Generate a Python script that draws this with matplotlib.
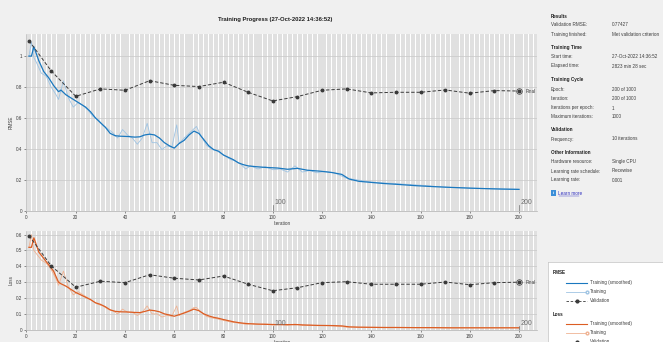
import matplotlib
matplotlib.use("Agg")
import matplotlib.pyplot as plt
from matplotlib.patches import Rectangle

W, H = 663, 342
plt.rcParams['font.family'] = ['Liberation Sans', 'DejaVu Sans']

# ---- data ----
val_iter = [1, 10, 20, 30, 40, 50, 60, 70, 80, 90, 100, 110, 120, 130, 140, 150, 160, 170, 180, 190, 200]
val_rmse = [1.10, 0.905, 0.740, 0.788, 0.779, 0.841, 0.811, 0.803, 0.831, 0.766, 0.710,
            0.738, 0.779, 0.788, 0.762, 0.766, 0.766, 0.781, 0.760, 0.777, 0.774]
val_loss = [0.594, 0.404, 0.268, 0.306, 0.297, 0.347, 0.325, 0.314, 0.339, 0.287, 0.246,
            0.265, 0.297, 0.303, 0.287, 0.287, 0.287, 0.301, 0.284, 0.297, 0.300]

sm_iter = [1, 2, 3, 5, 7, 9, 11, 13, 14, 16, 18, 20, 22, 24, 26, 28, 30, 32, 34, 36, 38, 41, 44,
           46, 48, 50, 52, 54, 56, 58, 60, 62, 64, 66, 68, 70, 72, 74, 76, 78, 80, 82, 84, 86, 88,
           90, 93, 97, 102, 106, 110, 114, 119, 124, 128, 131, 135, 140, 145, 150, 158, 165, 172,
           180, 186, 193, 200]
sm_rmse = [1.00, 1.00, 1.06, 0.97, 0.90, 0.86, 0.81, 0.77, 0.78, 0.75, 0.73, 0.71, 0.69, 0.67,
           0.64, 0.60, 0.57, 0.54, 0.50, 0.485, 0.482, 0.480, 0.476, 0.478, 0.49, 0.495, 0.49,
           0.47, 0.44, 0.42, 0.405, 0.435, 0.455, 0.49, 0.515, 0.50, 0.46, 0.42, 0.395, 0.385,
           0.36, 0.345, 0.33, 0.31, 0.298, 0.29, 0.285, 0.28, 0.276, 0.268, 0.274, 0.262, 0.256,
           0.247, 0.235, 0.205, 0.19, 0.183, 0.176, 0.171, 0.162, 0.156, 0.151, 0.146, 0.143,
           0.140, 0.138]
sm_loss = [0.52, 0.52, 0.58, 0.49, 0.45, 0.41, 0.37, 0.30, 0.29, 0.275, 0.255, 0.235, 0.22,
           0.205, 0.19, 0.17, 0.16, 0.145, 0.125, 0.116, 0.113, 0.112, 0.109, 0.108, 0.115,
           0.124, 0.12, 0.113, 0.10, 0.093, 0.085, 0.095, 0.105, 0.117, 0.13, 0.12, 0.10, 0.087,
           0.078, 0.072, 0.064, 0.057, 0.05, 0.045, 0.041, 0.038, 0.036, 0.034, 0.032, 0.032,
           0.032, 0.029, 0.027, 0.026, 0.024, 0.018, 0.016, 0.015, 0.014, 0.014, 0.013, 0.013,
           0.012, 0.012, 0.012, 0.012, 0.012]

raw_iter = [1, 2, 3, 4, 6, 8, 10, 12, 13, 15, 17, 19, 21, 23, 25, 27, 29, 31, 33, 35, 37, 39,
            41, 43, 45, 47, 49, 51, 53, 55, 57, 59, 61, 62, 64, 66, 68, 69, 71, 73, 75, 77, 79,
            81, 83, 85, 87, 89, 91, 94, 97, 100, 103, 106, 109, 112, 115, 118, 121, 125, 130,
            140, 150, 160, 170, 180, 190, 200]
raw_rmse = [1.00, 1.09, 0.99, 0.96, 0.89, 0.87, 0.80, 0.75, 0.72, 0.84, 0.73, 0.67, 0.70,
            0.68, 0.65, 0.61, 0.59, 0.55, 0.53, 0.505, 0.47, 0.525, 0.49, 0.47, 0.43, 0.47,
            0.565, 0.44, 0.44, 0.395, 0.42, 0.41, 0.555, 0.435, 0.47, 0.50, 0.53, 0.545, 0.48,
            0.425, 0.40, 0.39, 0.37, 0.35, 0.33, 0.32, 0.30, 0.27, 0.29, 0.27, 0.285, 0.265,
            0.27, 0.25, 0.29, 0.25, 0.26, 0.245, 0.255, 0.245, 0.21, 0.185, 0.175, 0.165, 0.152,
            0.146, 0.141, 0.138]
raw_loss = [0.52, 0.60, 0.50, 0.48, 0.44, 0.42, 0.38, 0.32, 0.28, 0.37, 0.27, 0.22, 0.24,
            0.22, 0.20, 0.18, 0.16, 0.15, 0.13, 0.12, 0.10, 0.13, 0.11, 0.11, 0.09, 0.11,
            0.15, 0.10, 0.10, 0.08, 0.09, 0.085, 0.15, 0.09, 0.11, 0.12, 0.14, 0.14, 0.11,
            0.085, 0.075, 0.07, 0.062, 0.055, 0.048, 0.044, 0.04, 0.034, 0.038, 0.033, 0.036,
            0.03, 0.033, 0.028, 0.036, 0.027, 0.03, 0.025, 0.027, 0.024, 0.016, 0.015, 0.014,
            0.013, 0.012, 0.012, 0.012, 0.012]

info_rows = [
    ("Results", None),
    ("Validation RMSE:", "0.77427"),
    ("Training finished:", "Met validation criterion"),
    ("Training Time", None),
    ("Start time:", "27-Oct-2022 14:36:52"),
    ("Elapsed time:", "2823 min 28 sec"),
    ("Training Cycle", None),
    ("Epoch:", "200 of 1000"),
    ("Iteration:", "200 of 1000"),
    ("Iterations per epoch:", "1"),
    ("Maximum iterations:", "1000"),
    ("Validation", None),
    ("Frequency:", "10 iterations"),
    ("Other Information", None),
    ("Hardware resource:", "Single CPU"),
    ("Learning rate schedule:", "Piecewise"),
    ("Learning rate:", "0.001"),
]
info_y = [16, 25, 34.5, 48, 57, 66, 80, 89.5, 99, 108, 117, 130, 139, 152, 161.5, 171, 180]

C_BLUE = '#1a78bf'
C_BLUE_L = '#9fc4e3'
C_ORNG = '#dc5d23'
C_ORNG_L = '#efb393'
C_VAL = '#3a3a3a'
TXT = '#3c3c3c'
FS = 3.3


def fx(x):
    return x / W


def fy(y):
    return 1 - y / H


fig = plt.figure(figsize=(W / 100, H / 100), dpi=100, facecolor='#f0f0f0')

ax1 = fig.add_axes([fx(26.5), fy(210.7), (537 - 26.5) / W, (210.7 - 34) / H])
ax2 = fig.add_axes([fx(26.5), fy(329.7), (537 - 26.5) / W, (329.7 - 230.7) / H])


def style_axis(ax, ymax, yticks, ylabel):
    ax.set_facecolor('white')
    ax.set_xlim(0, 207.3)
    ax.set_ylim(0, ymax)
    # epoch shading: one grey band every other epoch
    ax.vlines(list(range(1, 208, 2)), 0, ymax, color='#e0e0e0', lw=1.5,
              antialiased=False, zorder=0)
    ax.set_xticks(range(0, 201, 20))
    ax.set_yticks(yticks)
    ax.set_yticklabels([('%g' % t) for t in yticks])
    ax.grid(axis='y', color='#c8c8c8', lw=0.5, zorder=1)
    ax.tick_params(labelsize=FS, colors=TXT, length=1.5, width=0.4, pad=1.5)
    for s in ax.spines.values():
        s.set_color('#b0b0b0')
        s.set_linewidth(0.5)
    ax.spines['top'].set_visible(False)
    ax.spines['right'].set_visible(False)
    ax.set_xlabel('Iteration', fontsize=FS, color=TXT, labelpad=0.5)
    ax.set_ylabel(ylabel, fontsize=FS, color=TXT, labelpad=2)


def draw(ax, raw, sm, val, c, cl, ymax):
    ax.plot(raw_iter, raw, color=cl, lw=0.6, zorder=2)
    ax.plot(sm_iter, sm, color=c, lw=0.9, zorder=3)
    ax.plot(val_iter, val, color=C_VAL, ls=(0, (3.5, 2)), lw=0.7, marker='o',
            ms=1.8, mec=C_VAL, mfc=C_VAL, zorder=4)
    ax.plot(val_iter[-1], val[-1], 'o', ms=4, mfc='none', mec=C_VAL, mew=0.5, zorder=4)
    ax.text(val_iter[-1] + 2.5, val[-1], 'Final', fontsize=FS, color=TXT, va='center')
    for ep in (100, 200):
        ax.plot([ep, ep], [0, ymax * 0.035], color='#707070', lw=0.5, zorder=3)
        ax.text(ep + 0.5, ymax * 0.025, str(ep), fontsize=5, color='#707070', va='bottom')


style_axis(ax1, 1.143, [0, 0.2, 0.4, 0.6, 0.8, 1.0], 'RMSE')
draw(ax1, raw_rmse, sm_rmse, val_rmse, C_BLUE, C_BLUE_L, 1.143)
style_axis(ax2, 0.625, [0, 0.1, 0.2, 0.3, 0.4, 0.5, 0.6], 'Loss')
draw(ax2, raw_loss, sm_loss, val_loss, C_ORNG, C_ORNG_L, 0.625)

fig.text(fx(275.5), fy(19), 'Training Progress (27-Oct-2022 14:36:52)', fontsize=4.2,
         fontweight='bold', color='#202020', ha='center', va='center')

# ---- info panel ----
for (lab, val), y in zip(info_rows, info_y):
    if val is None:
        fig.text(fx(551), fy(y), lab, fontsize=FS, fontweight='bold', color='#202020', va='center')
    else:
        fig.text(fx(551), fy(y), lab, fontsize=FS, color=TXT, va='center')
        fig.text(fx(611.5), fy(y), val, fontsize=FS, color=TXT, va='center')

fig.patches.append(Rectangle((fx(551), fy(196)), 5 / W, 6 / H, transform=fig.transFigure,
                             facecolor='#3b8fd9', edgecolor='none'))
fig.text(fx(553.5), fy(193), 'i', fontsize=3, color='white', ha='center', va='center',
         fontweight='bold')
fig.text(fx(558.5), fy(193), 'Learn more', fontsize=FS, color='#3030c0', va='center')
fig.add_artist(plt.Line2D([fx(558.5), fx(579)], [fy(195.5), fy(195.5)], color='#3030c0',
                          lw=0.3, transform=fig.transFigure))

# ---- legend box ----
lg = fig.add_axes([fx(548), 0, (W - 548) / W, (H - 262) / H])
lg.set_xlim(0, W - 548)
lg.set_ylim(H - 262, 0)
lg.set_facecolor('white')
lg.set_xticks([])
lg.set_yticks([])
for s in lg.spines.values():
    s.set_color('#c0c0c0')
    s.set_linewidth(0.5)
groups = [('RMSE', C_BLUE, C_BLUE_L, 11), ('Loss', C_ORNG, C_ORNG_L, 52)]
for name, c, cl, y0 in groups:
    lg.text(5, y0, name, fontsize=FS, fontweight='bold', color='#202020', va='center')
    ys = [y0 + 9.5, y0 + 18.5, y0 + 27.5]
    lg.plot([18, 39], [ys[0], ys[0]], color=c, lw=0.8)
    lg.plot([18, 39], [ys[1], ys[1]], color=cl, lw=0.6, marker='o', ms=2, markevery=[1],
            mfc='white', mec=cl)
    lg.plot([18, 39], [ys[2], ys[2]], color=C_VAL, ls=(0, (3, 2)), lw=0.6)
    lg.plot([28.5], [ys[2]], 'o', color=C_VAL, ms=2)
    for yy, t in zip(ys, ['Training (smoothed)', 'Training', 'Validation']):
        lg.text(42, yy, t, fontsize=FS, color=TXT, va='center')

fig.savefig('out.png', dpi=100, facecolor=fig.get_facecolor())
